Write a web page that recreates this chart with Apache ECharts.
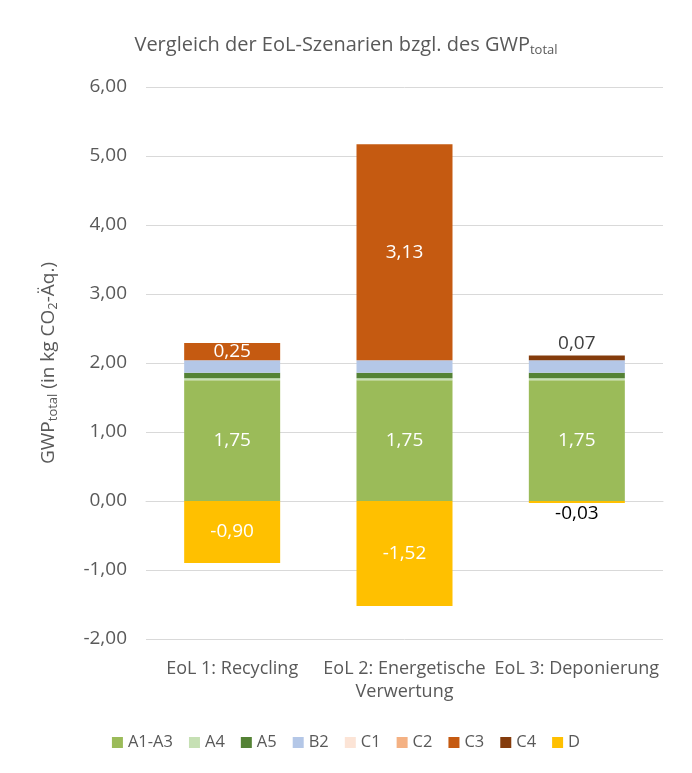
<!DOCTYPE html>
<html><head><meta charset="utf-8">
<script src="https://cdn.jsdelivr.net/npm/echarts@6/dist/echarts.min.js"></script>
<style>html,body{margin:0;padding:0;background:#fff}#c{width:692px;height:773px}</style>
</head><body><div id="c"></div>
<script>
const categories = ['EoL 1: Recycling', 'EoL 2: Energetische\nVerwertung', 'EoL 3: Deponierung'];
const seriesNames = ['A1-A3', 'A4', 'A5', 'B2', 'C1', 'C2', 'C3', 'C4', 'D'];
const A1A3 = [1.75, 1.75, 1.75];
const A4 = [0.03, 0.03, 0.03];
const A5 = [0.08, 0.08, 0.08];
const B2 = [0.18, 0.18, 0.18];
const C1 = [0.00, 0.00, 0.00];
const C2 = [0.00, 0.00, 0.00];
const C3 = [0.25, 3.13, 0.00];
const C4 = [0.00, 0.00, 0.07];
const D = [-0.90, -1.52, -0.03];
const yTicks = [-2, -1, 0, 1, 2, 3, 4, 5, 6];

const values = [A1A3, A4, A5, B2, C1, C2, C3, C4, D];
const colors = ['#9BBB59', '#C6E0B4', '#548235', '#B4C7E7', '#FCE4D6', '#F4B183', '#C55A11', '#843C0C', '#FFC000'];
const FONT = 'Open Sans';
const fmt = v => v.toFixed(2).replace('.', ',');

function labelFor(name, v, i) {
  const base = {show: true, fontFamily: FONT, fontSize: 19, formatter: p => fmt(p.value)};
  if (name === 'A1-A3') return Object.assign(base, {position: 'inside', color: '#fff'});
  if (name === 'C3' && v > 0) return Object.assign(base, {position: 'inside', color: '#fff'});
  if (name === 'C4' && v > 0) return Object.assign(base, {position: 'top', color: '#404040', distance: 2});
  if (name === 'D') {
    if (Math.abs(v) > 0.1) return Object.assign(base, {position: 'inside', color: '#fff'});
    return Object.assign(base, {position: 'bottom', color: '#000', distance: 1});
  }
  return {show: false};
}

const series = seriesNames.map((n, si) => ({
  name: n, type: 'bar', stack: 'total', barWidth: 96,
  itemStyle: {color: colors[si]},
  data: values[si].map((v, i) => ({value: v, label: labelFor(n, v, i)}))
}));

const chart = echarts.init(document.getElementById('c'));
chart.setOption({
  animation: false,
  title: {
    text: 'Vergleich der EoL-Szenarien bzgl. des GWP{s|total}',
    left: 'center', top: 29,
    textStyle: {fontFamily: FONT, fontSize: 20, fontWeight: 'normal', color: '#595959',
      rich: {s: {fontFamily: FONT, fontSize: 13, color: '#595959', padding: [10, 0, 0, 0]}}}
  },
  legend: {
    bottom: 17, left: 'center', itemWidth: 11, itemHeight: 11, itemGap: 16,
    icon: 'rect',
    textStyle: {fontFamily: FONT, fontSize: 16.5, color: '#595959'},
    data: seriesNames
  },
  grid: {left: 146, right: 29, top: 87, bottom: 134},
  xAxis: {
    type: 'category', data: categories,
    axisLine: {lineStyle: {color: '#d9d9d9'}},
    axisTick: {show: false},
    axisLabel: {fontFamily: FONT, fontSize: 18, color: '#595959', margin: 18, interval: 0, lineHeight: 23}
  },
  yAxis: {
    type: 'value', min: -2, max: 6, interval: 1,
    name: 'GWP{s|total} (in kg CO{s|2}-Äq.)',
    nameLocation: 'middle', nameGap: 86, nameRotate: 90,
    nameTextStyle: {fontFamily: FONT, fontSize: 19, color: '#595959',
      rich: {s: {fontFamily: FONT, fontSize: 13, color: '#595959', padding: [10, 0, 0, 0]}}},
    axisLabel: {fontFamily: FONT, fontSize: 19, color: '#595959', margin: 19, formatter: v => fmt(v)},
    splitLine: {lineStyle: {color: '#d9d9d9'}},
    axisLine: {show: false}, axisTick: {show: false}
  },
  series: series
});
</script>
</body></html>
